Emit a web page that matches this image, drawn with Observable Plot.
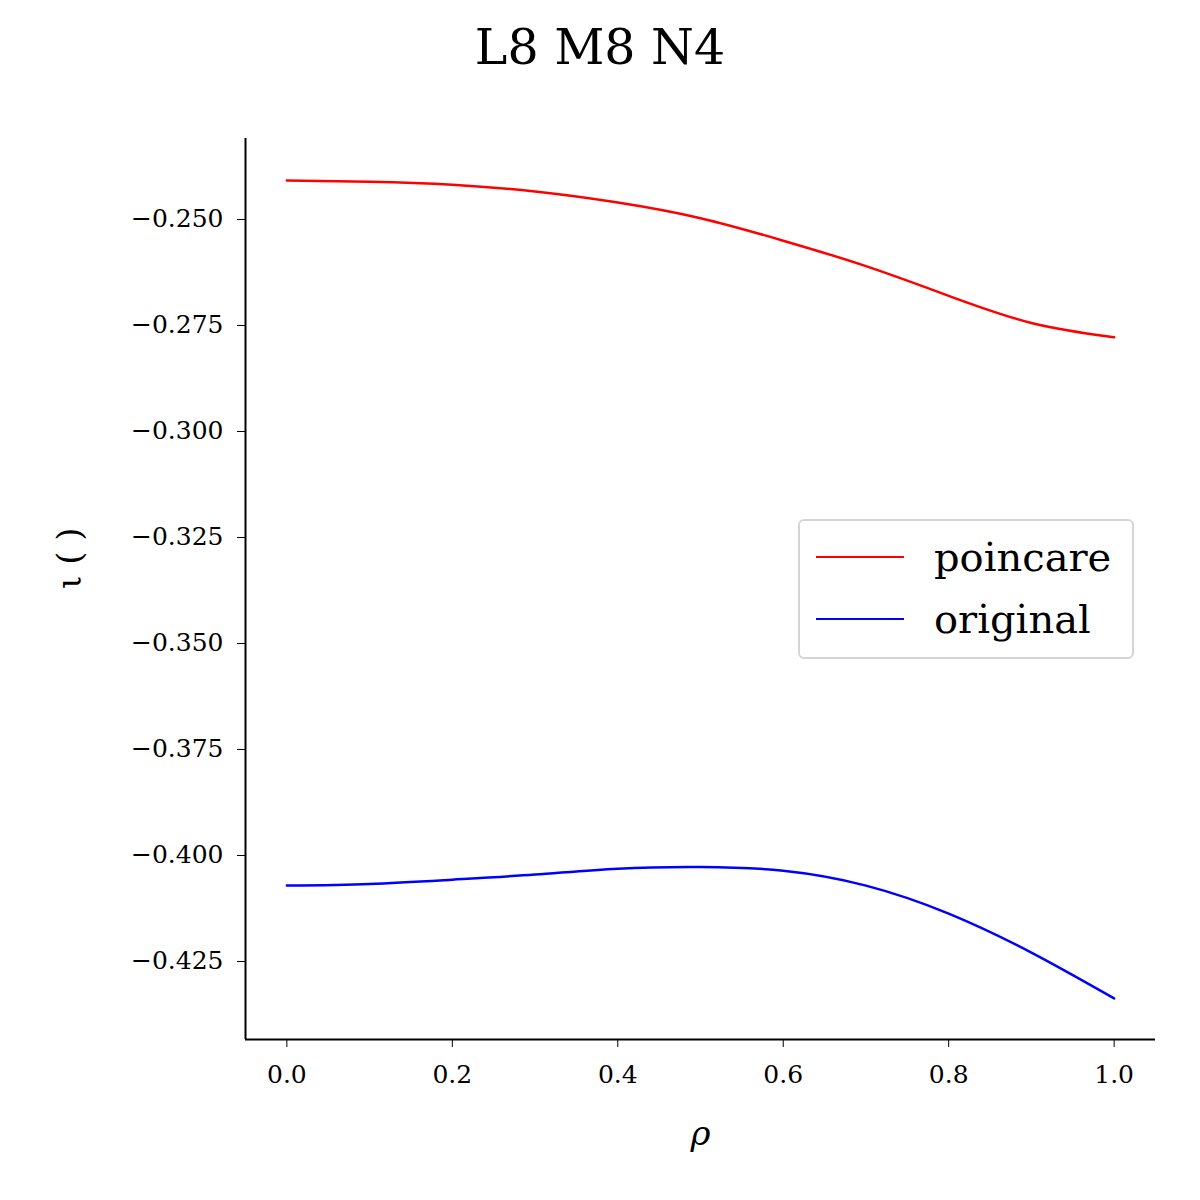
<!DOCTYPE html>
<html>
<head>
<meta charset="utf-8">
<script src="https://cdn.jsdelivr.net/npm/d3@7"></script>
<script src="https://cdn.jsdelivr.net/npm/@observablehq/plot@0.6"></script>
<style>
  body { margin: 0; background: #fff; font-family: "DejaVu Serif", serif; }
  #wrap { position: relative; width: 1200px; height: 1200px; }
  #title { height: 95px; line-height: 95px; text-align: center; font-size: 49px; }
  #legend { position: absolute; left: 798px; top: 519px; width: 336px; height: 140px;
    border: 2px solid #d5d5d5; border-radius: 6px; background: rgba(255,255,255,0.8);
    font-size: 40px; box-sizing: border-box; }
  .row { position: absolute; left: 16px; height: 44px; display: flex; align-items: center; }
  .sw { width: 88px; height: 2.5px; margin-right: 30px; }
</style>
</head>
<body>
<div id="wrap">
  <div id="title">L8 M8 N4</div>
  <div id="chart"></div>
  <div id="legend">
    <div class="row" style="top:14px"><div class="sw" style="background:red"></div>poincare</div>
    <div class="row" style="top:76px"><div class="sw" style="background:blue"></div>original</div>
  </div>
</div>
<script>
const rho = [0, 0.1, 0.2, 0.3, 0.4, 0.5, 0.6, 0.7, 0.8, 0.9, 1.0];
const poincare = [-0.2408, -0.2411, -0.2418, -0.2434, -0.2460, -0.2497, -0.2550, -0.2610, -0.2680, -0.2744, -0.2778];
const original = [-0.4071, -0.4067, -0.4057, -0.4045, -0.4031, -0.4027, -0.4036, -0.4071, -0.4137, -0.4229, -0.4337];
const xTicks = [0, 0.2, 0.4, 0.6, 0.8, 1.0];
const yTicks = [-0.425, -0.4, -0.375, -0.35, -0.325, -0.3, -0.275, -0.25];

const red = rho.map((r, i) => ({rho: r, iota: poincare[i]}));
const blue = rho.map((r, i) => ({rho: r, iota: original[i]}));
const xDom = [-0.05, 1.05], yDom = [-0.4434, -0.2309];

const chart = Plot.plot({
  width: 1200,
  height: 1105,
  marginLeft: 245,
  marginRight: 45,
  marginTop: 43,
  marginBottom: 161,
  style: {fontFamily: "DejaVu Serif, serif", fontSize: "25px", color: "black"},
  x: {domain: xDom, ticks: xTicks, tickFormat: d3.format(".1f"), tickSize: 8, tickPadding: 18, label: null},
  y: {domain: yDom, ticks: yTicks, tickFormat: d3.format(".3f"), tickSize: 8, tickPadding: 14, label: null},
  marks: [
    Plot.ruleX([xDom[0]], {y1: yDom[0], y2: yDom[1], strokeWidth: 2}),
    Plot.ruleY([yDom[0]], {x1: xDom[0], x2: xDom[1], strokeWidth: 2}),
    Plot.lineY(red, {x: "rho", y: "iota", stroke: "red", strokeWidth: 2.5, curve: "natural"}),
    Plot.lineY(blue, {x: "rho", y: "iota", stroke: "blue", strokeWidth: 2.5, curve: "natural"}),
    Plot.text([0], {frameAnchor: "bottom", dy: 105, text: () => "ρ", fontSize: 34, fontStyle: "italic"}),
    Plot.text([0], {frameAnchor: "left", dx: -175, rotate: -90, text: () => "ι ( )", fontSize: 34})
  ]
});
d3.select('#chart').append(() => chart);
</script>
</body>
</html>
